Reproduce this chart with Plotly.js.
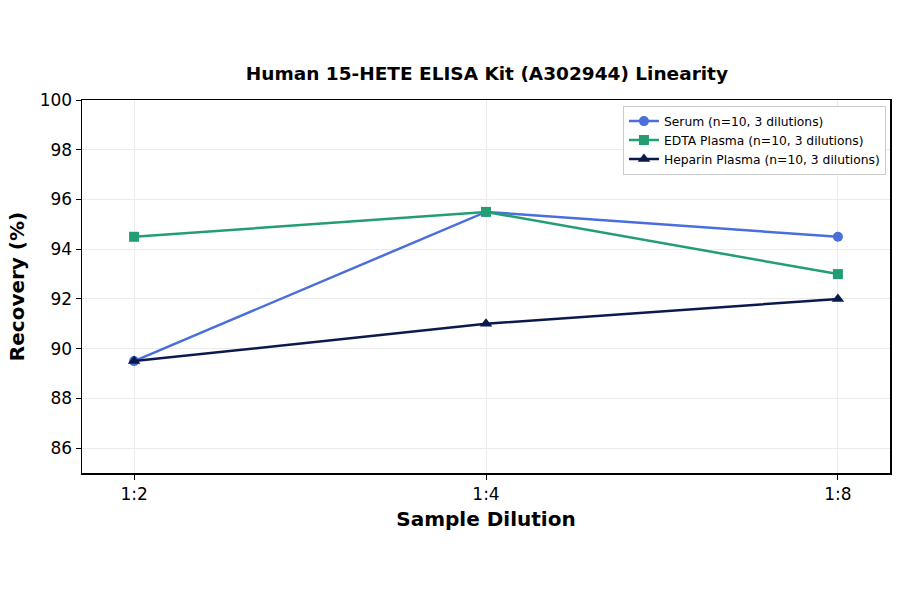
<!DOCTYPE html>
<html>
<head>
<meta charset="utf-8">
<script src="https://cdn.plot.ly/plotly-3.0.1.min.js"></script>
<style>
  html, body { margin: 0; padding: 0; background: #fff; }
  #chart { width: 900px; height: 594px; }
</style>
</head>
<body>
<div id="chart"></div>
<script>
// dilutions on the x axis
var dilutions = ['1:2', '1:4', '1:8'];

// recovery (%)
var serum = [89.5, 95.5, 94.5];
var edtaPlasma = [94.5, 95.5, 93.0];
var heparinPlasma = [89.5, 91.0, 92.0];

var seriesNames = [
    'Serum (n=10, 3 dilutions)',
    'EDTA Plasma (n=10, 3 dilutions)',
    'Heparin Plasma (n=10, 3 dilutions)'
];

var yTicks = [86, 88, 90, 92, 94, 96, 98, 100];

var font = 'DejaVu Sans, sans-serif';

function makeTrace(name, vals, color, symbol, size) {
    return {
        x: dilutions,
        y: vals,
        name: name,
        type: 'scatter',
        mode: 'lines+markers',
        line: { color: color, width: 2.5 },
        marker: { color: color, symbol: symbol, size: size }
    };
}

var data = [
    makeTrace(seriesNames[0], serum, '#4a6fdc', 'circle', 10),
    makeTrace(seriesNames[1], edtaPlasma, '#239e72', 'square', 10),
    makeTrace(seriesNames[2], heparinPlasma, '#0b1a4d', 'triangle-up', 11)
];

var layout = {
    width: 900,
    height: 594,
    paper_bgcolor: '#fff',
    plot_bgcolor: '#fff',
    font: { family: font, color: '#000', size: 17 },
    margin: { l: 82, r: 10, t: 100, b: 121 },
    title: {
        text: '<b>Human 15-HETE ELISA Kit (A302944) Linearity</b>',
        font: { family: font, size: 18.5, color: '#000' },
        x: 0.541, xanchor: 'center',
        y: 0.877, yanchor: 'middle'
    },
    xaxis: {
        type: 'category',
        range: [-0.148, 2.148],
        title: { text: '<b>Sample Dilution</b>', font: { size: 20 }, standoff: 9 },
        showline: true, mirror: true, linecolor: '#000', linewidth: 1.5,
        ticks: 'outside', ticklen: 5, tickcolor: '#000',
        showgrid: true, gridcolor: '#ebebeb', gridwidth: 1,
        tickfont: { size: 17 },
        zeroline: false
    },
    yaxis: {
        range: [85, 100],
        tickvals: yTicks,
        title: { text: '<b>Recovery (%)</b>', font: { size: 20 }, standoff: 9 },
        showline: true, mirror: true, linecolor: '#000', linewidth: 1.5,
        ticks: 'outside', ticklen: 5, tickcolor: '#000',
        showgrid: true, gridcolor: '#ebebeb', gridwidth: 1,
        tickfont: { size: 17 },
        zeroline: false
    },
    legend: {
        x: 0.995, xanchor: 'right',
        y: 0.985, yanchor: 'top',
        bgcolor: 'rgba(255,255,255,0.9)',
        bordercolor: '#cccccc', borderwidth: 1,
        font: { size: 12.3 },
        tracegroupgap: 0
    },
    showlegend: true
};

Plotly.newPlot('chart', data, layout, { staticPlot: true });
</script>
</body>
</html>
